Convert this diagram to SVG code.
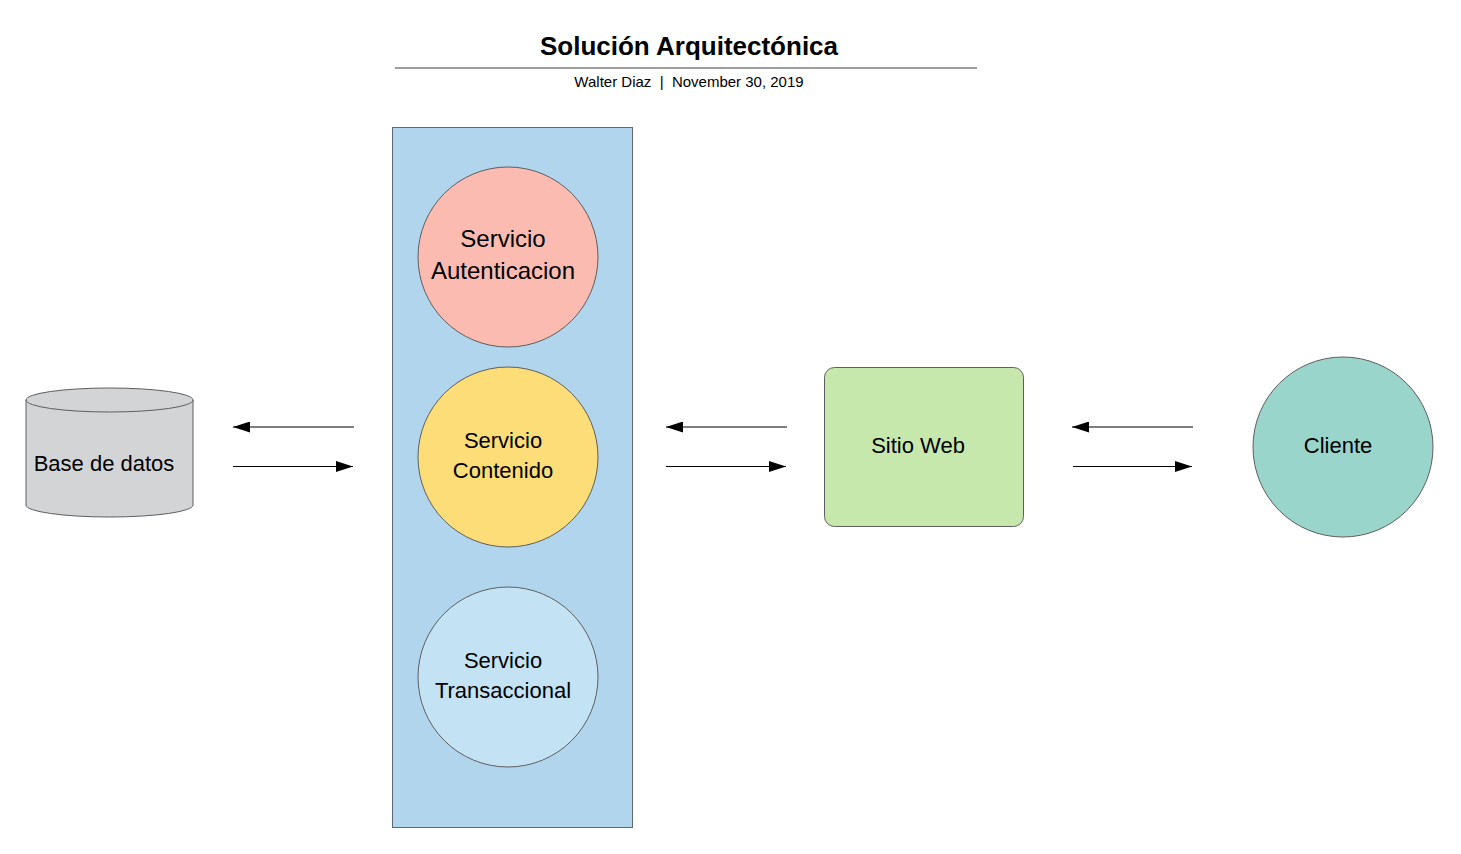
<svg xmlns="http://www.w3.org/2000/svg" width="1461" height="854" viewBox="0 0 1461 854">
<style>
text{font-family:"Liberation Sans",Arial,sans-serif;fill:#000;text-anchor:middle}
.lbl{font-size:22px}
.node{stroke:#5e5e5e;stroke-width:1}
.conn{stroke:#000;stroke-width:1.2;fill:none;marker-end:url(#ah)}
</style>
<defs>
<marker id="ah" viewBox="0 0 17 11" refX="17" refY="5.5" markerWidth="17" markerHeight="11" markerUnits="userSpaceOnUse" orient="auto">
<path d="M0,0 L17,5.5 L0,11 Z" fill="#000"/>
</marker>
</defs>
<rect width="1461" height="854" fill="#fff"/>
<g id="title">
<text x="689" y="55" style="font-size:26px;font-weight:bold">Solución Arquitectónica</text>
<line x1="395" y1="68" x2="977" y2="68" stroke="#9d9d9d" stroke-width="2"/>
<text x="689" y="87" style="font-size:15px;white-space:pre" xml:space="preserve">Walter Diaz  |  November 30, 2019</text>
</g>
<g id="contenedor">
<rect x="392.5" y="127.5" width="240" height="700" fill="#b2d5ee" stroke="#5a6a78" stroke-width="1"/>
</g>
<g id="servicio-autenticacion">
<circle class="node" cx="508" cy="257" r="90" fill="#fcbbb0"/>
<text class="lbl" x="503" y="247" style="font-size:24px">Servicio</text>
<text class="lbl" x="503" y="279" style="font-size:24px">Autenticacion</text>
</g>
<g id="servicio-contenido">
<circle class="node" cx="508" cy="457" r="90" fill="#fddd77"/>
<text class="lbl" x="503" y="448">Servicio</text>
<text class="lbl" x="503" y="478">Contenido</text>
</g>
<g id="servicio-transaccional">
<circle class="node" cx="508" cy="677" r="90" fill="#c3e3f5"/>
<text class="lbl" x="503" y="668">Servicio</text>
<text class="lbl" x="503" y="698">Transaccional</text>
</g>
<g id="base-de-datos">
<path class="node" d="M26,400 L26,505 A83.5,12 0 0 0 193,505 L193,400 A83.5,12 0 0 0 26,400 Z" fill="#d3d4d6"/>
<path d="M26,400 A83.5,12 0 0 0 193,400" fill="none" stroke="#5e5e5e" stroke-width="1"/>
<text class="lbl" x="104" y="471">Base de datos</text>
</g>
<g id="sitio-web">
<rect class="node" x="824.5" y="367.5" width="199" height="159" rx="10" fill="#c7e8ac"/>
<text class="lbl" x="918" y="453">Sitio Web</text>
</g>
<g id="cliente">
<circle class="node" cx="1343" cy="447" r="90" fill="#99d5ca"/>
<text class="lbl" x="1338" y="453">Cliente</text>
</g>
<g id="connectors">
<line class="conn" x1="354" y1="427" x2="233" y2="427"/>
<line class="conn" x1="233" y1="466.5" x2="353" y2="466.5"/>
<line class="conn" x1="787" y1="427" x2="666" y2="427"/>
<line class="conn" x1="666" y1="466.5" x2="786" y2="466.5"/>
<line class="conn" x1="1193" y1="427" x2="1072" y2="427"/>
<line class="conn" x1="1073" y1="466.5" x2="1192" y2="466.5"/>
</g>
</svg>
